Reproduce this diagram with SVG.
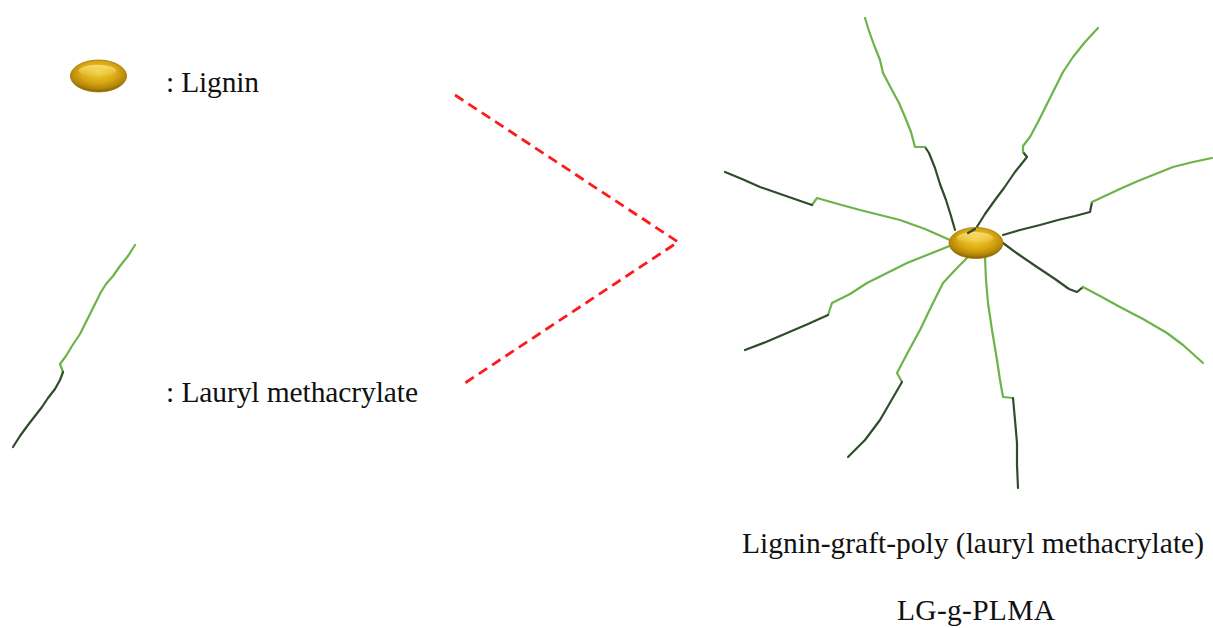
<svg xmlns="http://www.w3.org/2000/svg" width="1213" height="628" viewBox="0 0 1213 628">
  <defs>
    <radialGradient id="gold" cx="0.5" cy="0.38" r="0.6">
      <stop offset="0" stop-color="#f2cd3a"/>
      <stop offset="0.55" stop-color="#d9a812"/>
      <stop offset="0.85" stop-color="#b38608"/>
      <stop offset="1" stop-color="#8a6604"/>
    </radialGradient>
    <linearGradient id="shine" x1="0" y1="0" x2="0" y2="1">
      <stop offset="0" stop-color="#fbe27a" stop-opacity="0.9"/>
      <stop offset="1" stop-color="#fbe27a" stop-opacity="0"/>
    </linearGradient>
    <g id="bead">
      <ellipse cx="0" cy="0" rx="27" ry="15.5" fill="url(#gold)" stroke="#a07806" stroke-width="0.8"/>
      <ellipse cx="-1" cy="-5" rx="18" ry="6" fill="url(#shine)"/>
    </g>
  </defs>
  <style>
    .lbl { font-family: "Liberation Serif", "Times New Roman", serif; font-size: 29.5px; fill: #111; }
    .lt { fill: none; stroke: #6cb44a; stroke-width: 2.2; stroke-linejoin: round; stroke-linecap: round; }
    .dk { fill: none; stroke: #2f4d2c; stroke-width: 2.2; stroke-linejoin: round; stroke-linecap: round; }
    .dash { fill: none; stroke: #ff1a1a; stroke-width: 2.8; stroke-dasharray: 10 6; }
  </style>
  <rect width="1213" height="628" fill="#ffffff"/>

  <!-- legend: lignin particle -->
  <g id="legend-lignin">
    <use href="#bead" transform="translate(98.5,76) scale(1.04,1.03)"/>
    <text class="lbl" x="166" y="92" textLength="93" lengthAdjust="spacing">: Lignin</text>
  </g>

  <!-- legend: lauryl methacrylate chain -->
  <g id="legend-lma">
    <polyline class="lt" points="63,372 60,364 66,356 72,346 76,340 80,334 84,326 90,314 96,302 101,292 106,284 113,276 120,266 128,256 135,245"/>
    <polyline class="dk" points="63,372 60,380 55,389 48,398 42,407 35,416 28,425 20,436 13,447"/>
    <text class="lbl" x="166" y="402" textLength="252" lengthAdjust="spacing">: Lauryl methacrylate</text>
  </g>

  <!-- bracket joining the two components -->
  <g id="connectors">
    <polyline class="dash" points="455,95 678,242 462,385"/>
  </g>

  <!-- grafted macromolecule: lignin core with eight PLMA arms -->
  <g id="lg-g-plma">
    <!-- arm up -->
    <polyline class="dk" points="955,230 951,216 946,200 940,184 935,168 929,153 925,147"/>
    <polyline class="lt" points="925,147 915,147 911,132 905,117 899,103 892,90 883,73 880,60 874,45 869,31 865,18"/>
    <!-- arm up-right -->
    <polyline class="dk" points="975,230 985,214 995,200 1004,188 1015,172 1027,157 1023,152"/>
    <polyline class="lt" points="1023,152 1023,146 1030,137 1038,122 1047,104 1055,88 1063,72 1073,57 1085,42 1098,28"/>
    <!-- arm right -->
    <polyline class="dk" points="1003,235 1020,230 1040,225 1058,220 1075,216 1090,212 1092,202"/>
    <polyline class="lt" points="1092,202 1107,195 1122,188 1138,181 1153,175 1173,167 1193,162 1212,158"/>
    <!-- arm down-right -->
    <polyline class="dk" points="1003,243 1018,254 1037,267 1055,279 1069,289 1077,292 1083,287"/>
    <polyline class="lt" points="1083,287 1100,296 1120,307 1143,319 1167,333 1183,345 1203,363"/>
    <!-- arm down -->
    <polyline class="lt" points="985,257 986,280 988,303 992,330 997,360 1000,380 1003,397 1013,398"/>
    <polyline class="dk" points="1013,398 1015,420 1017,443 1017,465 1018,488"/>
    <!-- arm down-left -->
    <polyline class="lt" points="970,255 957,268 943,283 932,305 920,330 908,352 897,373 902,382"/>
    <polyline class="dk" points="902,382 891,401 880,420 865,440 848,457"/>
    <!-- arm left-low -->
    <polyline class="lt" points="957,243 932,253 907,263 887,273 867,283 850,294 832,303 828,315"/>
    <polyline class="dk" points="828,315 808,324 787,333 766,342 745,350"/>
    <!-- arm left-high -->
    <polyline class="lt" points="950,240 925,229 900,220 880,215 860,210 838,204 817,198 812,205"/>
    <polyline class="dk" points="812,205 786,196 760,187 742,179 725,172"/>
    <!-- lignin core -->
    <use href="#bead" transform="translate(976,243)"/>
    <polyline class="dk" points="968,233 975,229"/>
  </g>

  <g id="caption">
    <text class="lbl" x="742" y="553" textLength="462" lengthAdjust="spacing">Lignin-graft-poly (lauryl methacrylate)</text>
    <text class="lbl" x="897" y="620" textLength="158" lengthAdjust="spacing">LG-g-PLMA</text>
  </g>
</svg>
